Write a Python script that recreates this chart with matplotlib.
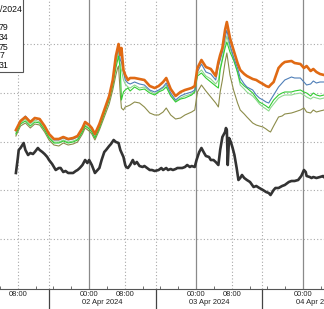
import matplotlib
matplotlib.use("Agg")
import matplotlib.pyplot as plt
import matplotlib.transforms as mtransforms
from matplotlib.patches import Rectangle

plt.rcParams['font.family'] = ['Liberation Sans', 'DejaVu Sans']

# time axis in hours since 01 Apr 2024 00:00
hours = [7.57, 8.6, 9.7, 10.8, 11.8, 12.9, 14.0, 15.0, 16.1, 17.2,
         18.2, 19.3, 20.4, 21.4, 22.5, 23.1, 24.0, 24.6, 25.3, 26.3,
         27.4, 28.5, 29.3, 30.0, 30.4, 30.6, 31.0, 31.25, 31.7, 32.1,
         32.7, 33.2, 34.2, 35.3, 36.4, 37.6, 38.7, 39.6, 40.6, 41.3,
         42.3, 43.4, 44.5, 45.5, 47.0, 47.7, 48.3, 49.2, 50.2, 51.3,
         52.4, 53.0, 53.4, 53.9, 54.5, 54.9, 55.6, 56.4, 57.3, 57.9,
         58.8, 59.4, 60.7, 61.5, 62.2, 63.0, 63.7, 64.3, 64.7, 65.4,
         66.5, 67.3, 67.9, 69.4, 70.1, 71.4, 72.2, 72.8, 73.7, 74.3,
         75.0, 75.8, 76.7]

orange = [170, 179, 183, 178, 182, 181, 174, 166, 161, 161,
          163, 161, 162, 164, 172, 178, 175, 172, 166, 176,
          190, 204, 220, 244, 252, 256, 245, 252, 230, 225,
          220, 222, 222, 221, 220, 214, 212, 214, 218, 222,
          211, 204, 208, 210, 212, 214, 232, 240, 233, 231,
          224, 238, 245, 252, 270, 278, 262, 250, 237, 230,
          226, 224, 221, 220, 218, 216, 214, 213, 215, 218,
          232, 236, 238, 239, 237, 236, 232, 234, 229, 231,
          228, 226, 225]

blue = [169, 179, 184, 178, 182, 180, 173, 165, 160, 160,
        162, 160, 161, 163, 171, 177, 174, 171, 165, 175,
        189, 203, 218, 240, 248, 252, 240, 238, 228, 220,
        217, 216, 218, 216, 215, 210, 208, 210, 213, 217,
        207, 200, 204, 206, 208, 210, 228, 236, 228, 226,
        220, 234, 240, 248, 262, 270, 255, 243, 232, 222,
        216, 213, 210, 205, 202, 200, 198, 197, 200, 205,
        213, 217, 220, 223, 222, 222, 218, 215, 216, 219,
        217, 218, 218]

light_green = [167, 177, 181, 176, 180, 178, 171, 163, 158, 158,
               160, 158, 159, 161, 169, 175, 172, 169, 163, 173,
               187, 201, 216, 236, 244, 248, 236, 230, 220, 216,
               213, 212, 215, 212, 213, 209, 206, 209, 212, 215,
               205, 199, 202, 204, 206, 209, 226, 230, 224, 221,
               216, 220, 232, 242, 256, 264, 252, 242, 227, 215,
               211, 208, 204, 200, 196, 193, 191, 189, 192, 196,
               202, 204, 205, 205, 206, 207, 205, 203, 201, 203,
               202, 201, 202]

green = [166, 176, 179, 174, 178, 177, 170, 162, 157, 157,
         159, 157, 158, 160, 168, 174, 171, 168, 162, 172,
         186, 200, 214, 232, 240, 244, 230, 200, 208, 210,
         212, 209, 213, 210, 211, 207, 205, 208, 210, 213,
         204, 198, 201, 202, 205, 208, 224, 227, 222, 218,
         214, 212, 230, 240, 252, 258, 248, 240, 228, 218,
         214, 212, 207, 202, 198, 196, 194, 192, 195, 200,
         205, 207, 208, 208, 209, 210, 208, 207, 204, 207,
         205, 204, 205]

olive = [164, 174, 177, 172, 176, 175, 168, 160, 155, 154,
         157, 155, 156, 158, 166, 172, 169, 166, 160, 170,
         183, 196, 210, 225, 232, 234, 205, 192, 190, 193,
         194, 195, 198, 197, 193, 187, 185, 185, 188, 192,
         185, 181, 182, 185, 188, 190, 208, 215, 209, 203,
         197, 193, 208, 220, 238, 247, 225, 210, 197, 190,
         186, 183, 177, 175, 174, 173, 171, 169, 168, 174,
         183, 184, 186, 187, 188, 190, 192, 188, 187, 190,
         188, 189, 190]

black = [(7.57, 127), (8.0, 142), (8.2, 150), (8.6, 152), (9.3, 157), (9.7, 150),
         (10.3, 145), (10.8, 147), (11.4, 146), (11.8, 148), (12.5, 152), (12.9, 150),
         (13.5, 148), (14.0, 146), (14.6, 143), (15.0, 140), (15.7, 136), (16.1, 133),
         (16.5, 130), (17.2, 132), (17.6, 132), (18.2, 128), (18.7, 129), (19.3, 127),
         (19.7, 127), (20.4, 127), (21.0, 129), (21.4, 130), (21.9, 132), (22.5, 135),
         (23.1, 140), (23.6, 137), (24.0, 140), (24.6, 135), (25.3, 127), (25.9, 130),
         (26.3, 132), (26.8, 140), (27.4, 148), (27.8, 150), (28.5, 154), (28.9, 156),
         (29.5, 160), (30.0, 158), (30.6, 157), (31.0, 150), (31.7, 143), (32.1, 135),
         (32.3, 133), (32.7, 132), (33.2, 135), (33.8, 140), (34.2, 136), (34.7, 138),
         (35.3, 134), (36.0, 133), (36.4, 134), (37.0, 132), (37.6, 130), (38.1, 130),
         (38.7, 129), (39.6, 130), (40.2, 132), (40.6, 130), (41.3, 132), (41.7, 130),
         (42.3, 131), (42.8, 130), (43.4, 131), (43.8, 132), (44.5, 132), (44.9, 132),
         (45.5, 133), (46.0, 135), (46.6, 133), (47.0, 134), (47.7, 133), (48.1, 140),
         (48.7, 148), (49.2, 152), (49.8, 147), (50.2, 144), (50.9, 143), (51.3, 140),
         (51.9, 140), (52.4, 138), (53.0, 135), (53.4, 150), (53.9, 163), (54.5, 168),
         (54.7, 172), (54.9, 170), (55.1, 135), (55.4, 162), (55.8, 158), (56.2, 152),
         (56.6, 145), (57.1, 132), (57.5, 120), (57.9, 122), (58.3, 125), (58.8, 122),
         (59.4, 120), (60.1, 118), (60.9, 113), (61.5, 114), (62.2, 112), (63.0, 110),
         (63.7, 108), (64.3, 107), (64.7, 105), (65.4, 110), (65.8, 112), (66.5, 112),
         (67.3, 114), (67.9, 115), (68.8, 118), (69.4, 119), (70.1, 119), (70.9, 120),
         (71.6, 124), (72.2, 130), (72.6, 128), (72.8, 124), (73.5, 123), (73.9, 122),
         (74.3, 123), (75.0, 122), (75.8, 123), (76.5, 124), (76.7, 123)]

legend_lines = ["/2024", "", "79", "34", "75", "7", "31"]
time_ticks = [8, 24, 32, 48, 56, 72]
time_labels = ["08:00", "00:00", "08:00", "00:00", "08:00", "00:00"]
day_starts = [24, 48, 72]
session_marks = [14.9, 38.9, 62.9]
date_labels = ["02 Apr 2024", "03 Apr 2024", "04 Apr 2024"]

fig = plt.figure(figsize=(3.24, 3.09), dpi=100)
ax = fig.add_axes([0, 20 / 309, 1, 289 / 309])
ax.set_xlim(7.57, 76.7)
ax.set_ylim(11, 300)

# grid and separators
ax.set_yticks([61, 110, 158, 207, 256])
ax.grid(axis='y', color='#a8a8a8', linestyle=(0, (1, 2)), linewidth=0.8)
for h in [8, 32, 56] + session_marks:
    ax.axvline(h, color='#a8a8a8', linestyle=(0, (1, 2)), linewidth=0.8, zorder=1)
for h in day_starts:
    ax.axvline(h, color='#8a8a8a', linewidth=0.9, zorder=1)
for h in session_marks:
    ax.axvline(h, ymin=-0.07, ymax=0, color='#444444', linewidth=0.9, clip_on=False)

bt = [p[0] for p in black]
bv = [p[1] for p in black]
ax.plot(bt, bv, color='#333333', linewidth=1.9, zorder=3)
ax.plot(hours, olive, color='#8c8c4a', linewidth=0.8, zorder=4)
ax.plot(hours, light_green, color='#8ed88e', linewidth=0.8, zorder=4)
ax.plot(hours, green, color='#33cc33', linewidth=0.8, zorder=5)
ax.plot(hours, blue, color='#4f7fb8', linewidth=0.8, zorder=5)
ax.plot(hours, orange, color='#e06a14', linewidth=1.9, zorder=6)

for s in ['left', 'top', 'right']:
    ax.spines[s].set_visible(False)
ax.spines['bottom'].set_color('#555555')
ax.spines['bottom'].set_linewidth(0.8)

ax.set_xticks(time_ticks)
ax.set_xticklabels(time_labels)
ax.set_xticks(list(range(4, 77, 4)), minor=True)
ax.tick_params(axis='x', which='major', length=0, pad=1.5, labelsize=5.4, labelcolor='#222222')
ax.tick_params(axis='x', which='minor', direction='in', length=2, color='#555555')
ax.tick_params(axis='y', length=0, labelleft=False)

trans = mtransforms.blended_transform_factory(ax.transData, ax.transAxes)
for h, lab in zip(session_marks, date_labels):
    ax.text(h + 12, -0.048, lab, transform=trans, ha='center', va='center',
            fontsize=5.4, color='#222222', clip_on=False)

# legend box (cut off at the left edge)
ax.add_patch(Rectangle((-0.01, 0.751), 0.081, 0.26, transform=ax.transAxes,
                       facecolor='white', edgecolor='#555555', linewidth=0.8,
                       zorder=8, clip_on=False))
legend_y = [10, 19, 28, 37.5, 47, 56, 65]
legend_x = [22, 8.5, 8.5, 8.5, 8.5, 4.5, 8.5]
for lab, py, px in zip(legend_lines, legend_y, legend_x):
    ax.text(px / 324, (289 - py) / 289, lab, transform=ax.transAxes, ha='right',
            va='center', fontsize=6.3, color='#111111', zorder=9)

fig.savefig('out.png', dpi=100)
